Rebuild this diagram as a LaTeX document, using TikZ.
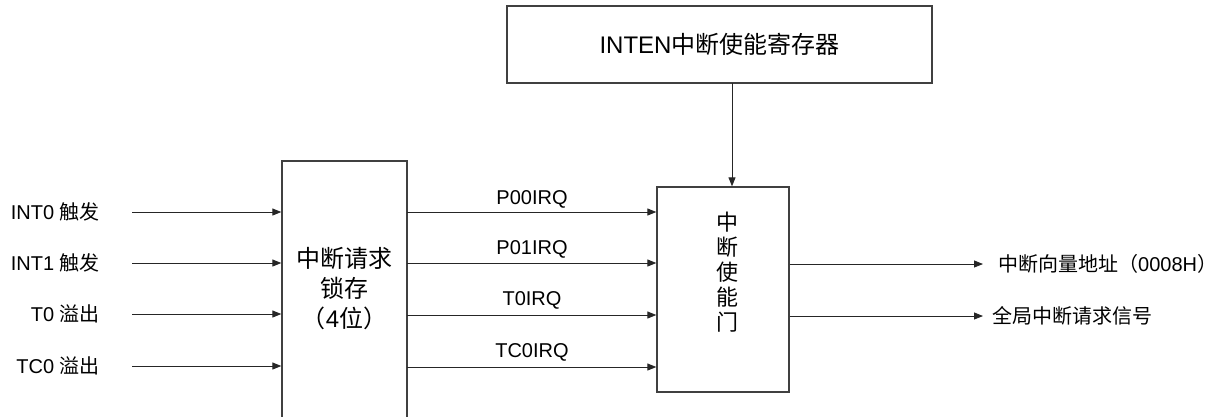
\documentclass[tikz,border=0pt]{standalone}
\usepackage{fontspec}
\setmainfont{Liberation Sans}
\newfontfamily\cjk{Noto Sans CJK SC}
\usetikzlibrary{arrows.meta}
\begin{document}
\begin{tikzpicture}[x=1pt,y=-1pt,
  box/.style={draw=black!75,line width=1.3pt,rectangle,inner sep=0pt},
  wire/.style={draw=black!85,line width=0.9pt,-{Triangle[length=9pt,width=7pt]}},
  lbl/.style={font=\fontsize{20}{24}\selectfont,inner sep=0pt},
  big/.style={font=\fontsize{24}{32}\selectfont,inner sep=0pt,align=center}]
\useasboundingbox (0,0) rectangle (1231,416);
\clip (0,0) rectangle (1231,416);
% boxes
\node[box,minimum width=425pt,minimum height=77pt] (inten) at (719.5,44.5) {};
\node[big] (intentext) at (719.5,44.5) {INTEN{\cjk 中断使能寄存器}};
\node[box,minimum width=125pt,minimum height=270pt] (latch) at (344.5,296) {};
\node[big] (latchtext) at (344.5,289) {{\cjk 中断请求}\\[-2pt]{\cjk 锁存}\\[-2pt]{\cjk （}4{\cjk 位）}};
\node[box,minimum width=132pt,minimum height=205pt] (gate) at (723,289.5) {};
\node[inner sep=0pt,align=center,font=\fontsize{22}{25}\selectfont\cjk] (gatetext) at (727,272) {中\\断\\使\\能\\门};
% top arrow
\coordinate (tdown) at (732,83);
\draw[wire] (tdown) -- (tdown |- gate.north);
% inputs
\foreach \y/\t/\n in {212/{INT0 {\cjk 触发}}/a,263/{INT1 {\cjk 触发}}/b,314/{T0 {\cjk 溢出}}/c,366/{TC0 {\cjk 溢出}}/d}{
  \node[lbl,anchor=east] (lab\n) at (100,\y) {\t};
  \coordinate (in\n) at (132,\y);
  \draw[wire] (in\n) -- (in\n -| latch.west);
}
% middle
\foreach \y/\ly/\t/\n in {212/199/P00IRQ/a,263/249/P01IRQ/b,315/300/T0IRQ/c,367/352/TC0IRQ/d}{
  \coordinate (m\n) at (407,\y);
  \draw[wire] (m\n) -- (m\n -| gate.west);
  \node[lbl] (ml\n) at (532,\ly) {\t};
}
% outputs
\coordinate (oa) at (983,264);
\coordinate (ob) at (983,316);
\draw[wire] (oa -| gate.east) -- (oa);
\draw[wire] (ob -| gate.east) -- (ob);
\node[lbl,anchor=west] (ola) at (998,264) {{\cjk 中断向量地址（}0008H{\cjk ）}};
\node[lbl,anchor=west] (olb) at (992,316) {{\cjk 全局中断请求信号}};
\end{tikzpicture}
\end{document}
